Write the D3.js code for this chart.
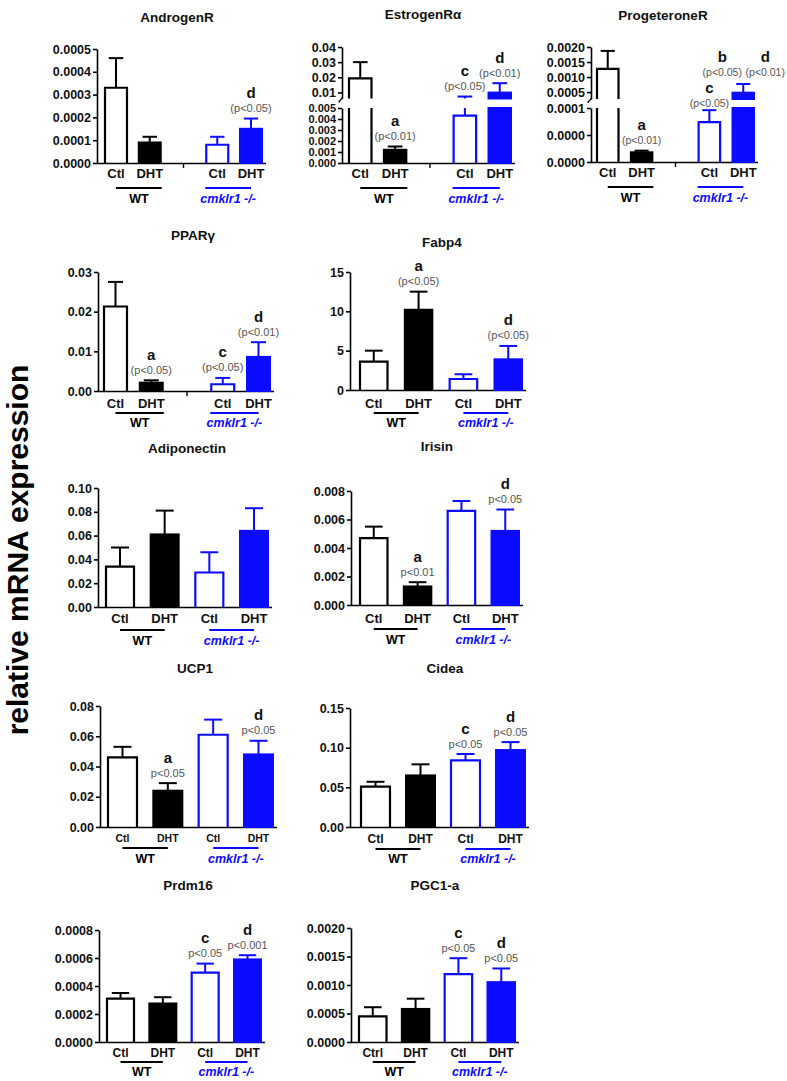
<!DOCTYPE html>
<html><head><meta charset="utf-8">
<script src="https://cdn.jsdelivr.net/npm/d3@7"></script>
<style>body{margin:0;background:#fff}svg{display:block}text{font-family:"Liberation Sans",Arial,sans-serif}</style>
</head><body><svg id="c" width="787" height="1081"></svg>
<script>
// ---------- DATA ----------
const groups = ["WT-Ctl","WT-DHT","KO-Ctl","KO-DHT"];
const xLabels = ["Ctl","DHT","Ctl","DHT"];
const xLabelsPGC = ["Ctrl","DHT","Ctl","DHT"];
const groupNames = ["WT","cmklr1 -/-"];
const yTitle = "relative mRNA expression";
const titles = ["AndrogenR","EstrogenRα","ProgeteroneR","PPARγ","Fabp4","Adiponectin","Irisin","UCP1","Cidea","Prdm16","PGC1-a"];

const androgenMean = [0.00033, 0.00009, 0.00008, 0.00015];
const androgenSem  = [0.00013, 0.000025, 0.000035, 0.000045];
const androgenTicks = [0, 0.0001, 0.0002, 0.0003, 0.0004, 0.0005];
const androgenNotes = [[3, "d", "(p<0.05)"]];

const estrogenMean = [0.0193, 0.0012, 0.0043, 0.0099];
const estrogenSem  = [0.0107, 0.0003, 0.0030, 0.0062];
const estrogenLowTicks  = [0, 0.001, 0.002, 0.003, 0.004, 0.005];
const estrogenHighTicks = [0.01, 0.02, 0.03, 0.04];
const estrogenNotes = [[1, "a", "(p<0.01)"], [2, "c", "(p<0.05)"], [3, "d", "(p<0.01)"]];

const progMean = [0.00127, 0.000018, 0.000074, 0.00048];
const progSem  = [0.0006, 0.000003, 0.000022, 0.00029];
const progLowTicks  = [0, 0.00005, 0.0001];
const progLowTickLabels = ["0.0000", "0.0000", "0.0001"];
const progHighTicks = [0.0005, 0.0010, 0.0015, 0.0020];
const progNotes = [[1, "a", "(p<0.01)"], [2, "c", "(p<0.05)", 0, 3], [3, "b", "(p<0.05)", -21, -1], [3, "d", "(p<0.01)", 22, -1]];

const pparMean = [0.0213, 0.0021, 0.0017, 0.0086];
const pparSem  = [0.0062, 0.0006, 0.0016, 0.0037];
const pparTicks = [0, 0.01, 0.02, 0.03];
const pparNotes = [[1, "a", "(p<0.05)"], [2, "c", "(p<0.05)"], [3, "d", "(p<0.01)"]];

const fabp4Mean = [3.6, 10.2, 1.4, 3.9];
const fabp4Sem  = [1.4, 2.3, 0.6, 1.7];
const fabp4Ticks = [0, 5, 10, 15];
const fabp4Notes = [[1, "a", "(p<0.05)"], [3, "d", "(p<0.05)"]];

const adipoMean = [0.034, 0.061, 0.029, 0.064];
const adipoSem  = [0.016, 0.020, 0.017, 0.019];
const adipoTicks = [0, 0.02, 0.04, 0.06, 0.08, 0.10];
const adipoNotes = [];

const irisinMean = [0.0047, 0.0013, 0.0066, 0.0052];
const irisinSem  = [0.0008, 0.0003, 0.0007, 0.0015];
const irisinTicks = [0, 0.002, 0.004, 0.006, 0.008];
const irisinNotes = [[1, "a", "p<0.01"], [3, "d", "p<0.05"]];

const ucp1Mean = [0.046, 0.024, 0.061, 0.048];
const ucp1Sem  = [0.007, 0.005, 0.010, 0.009];
const ucp1Ticks = [0, 0.02, 0.04, 0.06, 0.08];
const ucp1Notes = [[1, "a", "p<0.05"], [3, "d", "p<0.05"]];

const cideaMean = [0.051, 0.065, 0.084, 0.097];
const cideaSem  = [0.006, 0.014, 0.008, 0.010];
const cideaTicks = [0, 0.05, 0.10, 0.15];
const cideaNotes = [[2, "c", "p<0.05"], [3, "d", "p<0.05"]];

const prdm16Mean = [0.00031, 0.000275, 0.000495, 0.00059];
const prdm16Sem  = [0.00004, 0.000045, 0.000065, 0.00003];
const prdm16Ticks = [0, 0.0002, 0.0004, 0.0006, 0.0008];
const prdm16Notes = [[2, "c", "p<0.05"], [3, "d", "p<0.001"]];

const pgcMean = [0.00045, 0.00058, 0.00119, 0.00105];
const pgcSem  = [0.00016, 0.00018, 0.00028, 0.00024];
const pgcTicks = [0, 0.0005, 0.0010, 0.0015, 0.0020];
const pgcNotes = [[2, "c", "p<0.05"], [3, "d", "p<0.05"]];

// ---------- LAYOUT ----------
const BLUE = "#0b0bff";
const panels = [
  {title: titles[0], mean: androgenMean, sem: androgenSem, ticks: androgenTicks, fmt: ".4f", notes: androgenNotes, labels: xLabels,
   L: {ax: 97, y0: 163, yTop: 49, r: [104, 263], bw: 24, gap: true, tx: 177, ty: 17, xly: 173, ly: 188, gy: 199, xls: 13, ps: 11}},
  {title: titles[1], mean: estrogenMean, sem: estrogenSem, broken: true, lowMax: 0.005, hiMin: 0.006, hiMax: 0.04,
   lowTicks: estrogenLowTicks, hiTicks: estrogenHighTicks, lowFmt: ".3f", hiFmt: ".2f", notes: estrogenNotes, labels: xLabels,
   L: {ax: 342, y0: 163, lowTop: 108, hiBottom: 98.5, hiTop: 47, r: [348, 512], bw: 24.5, gap: true, tx: 423, ty: 14, xly: 173, ly: 188, gy: 199, xls: 13, lowTs: 11, ps: 11}},
  {title: titles[2], mean: progMean, sem: progSem, broken: true, lowMax: 0.0001, hiMin: 0.00027, hiMax: 0.002,
   lowTicks: progLowTicks, lowLabels: progLowTickLabels, hiTicks: progHighTicks, hiFmt: ".4f", notes: progNotes, labels: xLabels,
   L: {ax: 591, y0: 162, lowTop: 108, hiBottom: 99, hiTop: 47, r: [596, 755], bw: 23.5, gap: true, tx: 663, ty: 15, xly: 172, ly: 187, gy: 198, xls: 13, ps: 10.5}},
  {title: titles[3], mean: pparMean, sem: pparSem, ticks: pparTicks, fmt: ".2f", notes: pparNotes, labels: xLabels,
   L: {ax: 98, y0: 391, yTop: 272, r: [103, 271], bw: 25, gap: true, tx: 193, ty: 235, xly: 403, ly: 413, gy: 423, xls: 13, ps: 11}},
  {title: titles[4], mean: fabp4Mean, sem: fabp4Sem, ticks: fabp4Ticks, fmt: "d", notes: fabp4Notes, labels: xLabels,
   L: {ax: 350, y0: 390, yTop: 272, r: [359, 523], bw: 29.5, gap: false, tx: 442, ty: 242, xly: 403, ly: 413, gy: 423, xls: 13, ps: 11}},
  {title: titles[5], mean: adipoMean, sem: adipoSem, ticks: adipoTicks, fmt: ".2f", notes: adipoNotes, labels: xLabels,
   L: {ax: 98, y0: 607, yTop: 488, r: [105, 269], bw: 30, gap: false, tx: 187, ty: 448, xly: 618, ly: 630, gy: 641, xls: 13, ps: 11}},
  {title: titles[6], mean: irisinMean, sem: irisinSem, ticks: irisinTicks, fmt: ".3f", notes: irisinNotes, labels: xLabels,
   L: {ax: 351, y0: 605, yTop: 491, r: [359, 520], bw: 29.5, gap: false, tx: 437, ty: 446, xly: 618, ly: 629, gy: 640, xls: 13, ps: 11}},
  {title: titles[7], mean: ucp1Mean, sem: ucp1Sem, ticks: ucp1Ticks, fmt: ".2f", notes: ucp1Notes, labels: xLabels,
   L: {ax: 100, y0: 827, yTop: 706, r: [107, 274], bw: 31, gap: false, tx: 195, ty: 668, xly: 838, ly: 848, gy: 859, xls: 10.5, ps: 11}},
  {title: titles[8], mean: cideaMean, sem: cideaSem, ticks: cideaTicks, fmt: ".2f", notes: cideaNotes, labels: xLabels,
   L: {ax: 350, y0: 827, yTop: 708, r: [360, 526], bw: 31, gap: false, tx: 445, ty: 668, xly: 839, ly: 849, gy: 859, xls: 12, ps: 11}},
  {title: titles[9], mean: prdm16Mean, sem: prdm16Sem, ticks: prdm16Ticks, fmt: ".4f", notes: prdm16Notes, labels: xLabels,
   L: {ax: 99, y0: 1042, yTop: 930, r: [106, 262], bw: 29, gap: false, tx: 188, ty: 885, xly: 1053, ly: 1062, gy: 1072, xls: 12, ps: 11}},
  {title: titles[10], mean: pgcMean, sem: pgcSem, ticks: pgcTicks, fmt: ".4f", notes: pgcNotes, labels: xLabelsPGC,
   L: {ax: 351, y0: 1042, yTop: 928, r: [358, 516], bw: 29.5, gap: false, tx: 435, ty: 885, xly: 1053, ly: 1062, gy: 1072, xls: 12, ps: 11}}
];

const svg = d3.select("#c");
svg.append("rect").attr("width", 787).attr("height", 1081).attr("fill", "#fff");

function styleAxis(sel, fs) {
  sel.select(".domain").attr("stroke", "#000").attr("stroke-width", 1.6);
  sel.selectAll(".tick line").attr("stroke", "#000").attr("stroke-width", 1.6);
  sel.selectAll(".tick text").attr("fill", "#111").attr("font-weight", "bold")
     .attr("font-size", (fs || 12.5) + "px").attr("font-family", '"Liberation Sans",Arial,sans-serif');
}

function drawPanel(p) {
  const L = p.L;
  const g = svg.append("g");
  const keys = L.gap ? [groups[0], groups[1], "gap", groups[2], groups[3]] : groups.slice();
  const n = keys.length;
  const step = (L.r[1] - L.r[0] - L.bw) / (n - 1);
  const x = d3.scaleBand().domain(keys).range(L.r).paddingInner(1 - L.bw / step).paddingOuter(0);
  const bw = x.bandwidth();

  let yLow, yHigh = null;
  if (p.broken) {
    yLow = d3.scaleLinear().domain([0, p.lowMax]).range([L.y0, L.lowTop]);
    yHigh = d3.scaleLinear().domain([p.hiMin, p.hiMax]).range([L.hiBottom, L.hiTop]);
  } else {
    yLow = d3.scaleLinear().domain([0, d3.max(p.ticks)]).range([L.y0, L.yTop]);
  }
  const ypos = v => (yHigh && v > p.lowMax) ? yHigh(v) : yLow(v);

  // title
  g.append("text").attr("x", L.tx).attr("y", L.ty).attr("text-anchor", "middle").attr("dominant-baseline", "central")
    .attr("font-weight", "bold").attr("font-size", "13.5px").attr("fill", "#111").text(p.title);

  // y axes
  const lowAxis = d3.axisLeft(yLow).tickValues(p.broken ? p.lowTicks : p.ticks).tickSize(4).tickSizeOuter(0).tickPadding(2)
    .tickFormat(p.lowLabels ? ((d, i) => p.lowLabels[i]) : d3.format(p.broken ? p.lowFmt : p.fmt));
  g.append("g").attr("transform", `translate(${L.ax},0)`).call(lowAxis).call(styleAxis, L.lowTs);
  if (yHigh) {
    const hiAxis = d3.axisLeft(yHigh).tickValues(p.hiTicks).tickSize(4).tickSizeOuter(0).tickPadding(2)
      .tickFormat(d3.format(p.hiFmt));
    g.append("g").attr("transform", `translate(${L.ax},0)`).call(hiAxis).call(styleAxis);
    // break mark
    g.append("path").attr("d", `M${L.ax},${L.hiBottom - 1}C${L.ax},${L.hiBottom + 2} ${L.ax - 3},${L.hiBottom + 1} ${L.ax - 3},${L.hiBottom + 4}`)
      .attr("fill", "none").attr("stroke", "#000").attr("stroke-width", 1.3);
  }

  // x axis line
  g.append("line").attr("x1", L.ax).attr("x2", L.r[1] + 3).attr("y1", L.y0 + 0.5).attr("y2", L.y0 + 0.5)
    .attr("stroke", "#000").attr("stroke-width", 1.6);
  if (L.gap) {
    const gx = x("gap") + bw / 2;
    g.append("line").attr("x1", gx).attr("x2", gx).attr("y1", L.y0).attr("y2", L.y0 + 5)
      .attr("stroke", "#000").attr("stroke-width", 1.4);
  }

  // bars
  p.mean.forEach((v, i) => {
    const bx = x(groups[i]);
    const col = i < 2 ? "#000" : BLUE;
    const filled = i % 2 === 1;
    const segs = (yHigh && v > p.lowMax)
      ? [[0, p.lowMax, yLow, "low"], [p.hiMin, v, yHigh, "high"]]
      : [[0, v, yLow, "full"]];
    const l = bx + 1, r = bx + bw - 1;
    segs.forEach(([a, b, s, kind]) => {
      const top = s(b), bot = s(a);
      if (filled) {
        g.append("rect").attr("x", l).attr("y", top).attr("width", r - l).attr("height", Math.max(0, bot - top))
          .attr("fill", col).attr("stroke", col).attr("stroke-width", 2);
      } else {
        const d = kind === "low" ? `M${l},${bot}V${top}M${r},${top}V${bot}` : `M${l},${bot}V${top}H${r}V${bot}`;
        g.append("path").attr("d", d).attr("fill", "none").attr("stroke", col).attr("stroke-width", 2.2);
      }
    });
    // error bar (upper only)
    const top = v + p.sem[i];
    const cx = bx + bw / 2;
    const cw = Math.min(18, Math.max(14, bw * 0.6));
    const eb = [];
    if (yHigh && v <= p.lowMax && top > p.lowMax) {
      eb.push([yLow(v), yLow(p.lowMax)], [yHigh(p.hiMin), yHigh(top)]);
    } else {
      eb.push([ypos(v), ypos(top)]);
    }
    eb.forEach(([y1, y2]) => g.append("line").attr("x1", cx).attr("x2", cx).attr("y1", y1).attr("y2", y2)
      .attr("stroke", col).attr("stroke-width", 2));
    g.append("line").attr("x1", cx - cw / 2).attr("x2", cx + cw / 2).attr("y1", ypos(top)).attr("y2", ypos(top))
      .attr("stroke", col).attr("stroke-width", 2);

    // x label
    g.append("text").attr("x", cx).attr("y", L.xly).attr("text-anchor", "middle").attr("dominant-baseline", "central")
      .attr("font-weight", "bold").attr("font-size", L.xls + "px").attr("fill", "#111").text(p.labels[i]);
  });

  // significance notes
  p.notes.forEach(([i, letter, ptxt, dx, dy]) => {
    const cx = x(groups[i]) + bw / 2 + (dx || 0);
    const yt = ypos(p.mean[i] + p.sem[i]) + (dy || 0);
    g.append("text").attr("x", cx).attr("y", yt - 26).attr("text-anchor", "middle").attr("dominant-baseline", "central")
      .attr("font-weight", "bold").attr("font-size", "15px").attr("fill", "#111").text(letter);
    g.append("text").attr("x", cx).attr("y", yt - 10.5).attr("text-anchor", "middle").attr("dominant-baseline", "central")
      .attr("font-size", L.ps + "px").attr("fill", "#555").text(ptxt);
  });

  // group lines & names
  const c0 = x(groups[0]) + bw / 2, c1 = x(groups[1]) + bw / 2, c2 = x(groups[2]) + bw / 2, c3 = x(groups[3]) + bw / 2;
  const wt = L.gap ? [c0, x(groups[1]) + bw] : [c0, c1];
  const ko = L.gap ? [x(groups[2]), c3] : [c2, c3];
  [[wt, "#000", groupNames[0], "normal"], [ko, BLUE, groupNames[1], "italic"]].forEach(([ext, col, name, st]) => {
    g.append("line").attr("x1", ext[0]).attr("x2", ext[1]).attr("y1", L.ly).attr("y2", L.ly)
      .attr("stroke", col).attr("stroke-width", 2);
    g.append("text").attr("x", (ext[0] + ext[1]) / 2).attr("y", L.gy).attr("text-anchor", "middle")
      .attr("dominant-baseline", "central").attr("font-weight", "bold").attr("font-style", st)
      .attr("font-size", "12.5px").attr("fill", col).text(name);
  });
}

panels.forEach(drawPanel);

svg.append("text").attr("transform", "translate(28,550) rotate(-90)").attr("text-anchor", "middle")
  .attr("font-weight", "bold").attr("font-size", "30px").attr("fill", "#000").text(yTitle);
</script>
</body></html>
